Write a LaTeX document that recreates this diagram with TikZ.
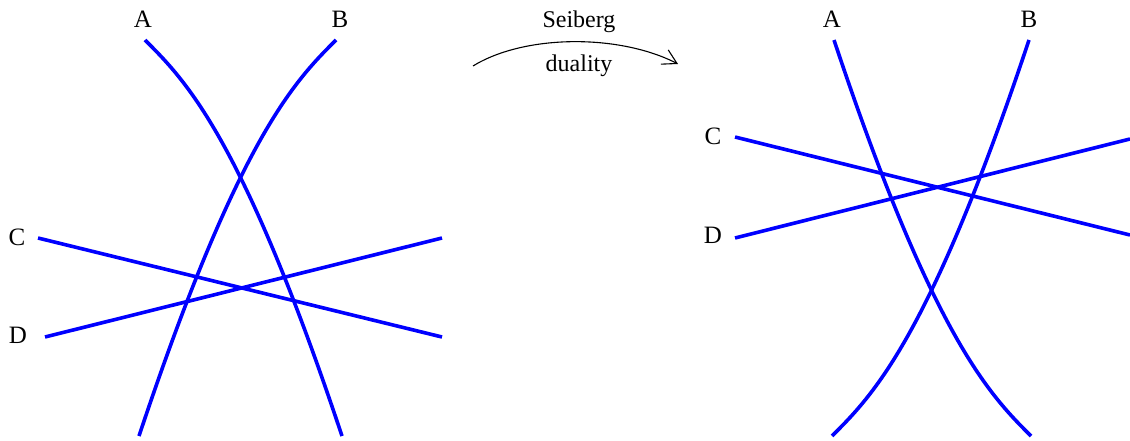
\documentclass[tikz,border=0pt]{standalone}
\usepackage{fontspec}
\setmainfont{Liberation Serif}
\usetikzlibrary{arrows.meta}
\begin{document}
\begin{tikzpicture}[x=1pt,y=-1pt,
  brane/.style={draw={rgb,255:red,0;green,0;blue,255},line width=3.6pt},
  lbl/.style={anchor=base,inner sep=0pt,font=\fontsize{25}{28}\selectfont},
  small/.style={anchor=base,inner sep=0pt,font=\fontsize{24}{27}\selectfont},
  dualarrow/.style={draw=black,line width=1.1pt,-{Straight Barb[length=14pt,width=16pt,line width=1.1pt]}}]
\useasboundingbox (0,0) rectangle (1130,441);
% ---------- left configuration ----------
\node[lbl] (LA) at (143,28) {A};
\node[lbl] (LB) at (340,28) {B};
\node[lbl] (LC) at (17,245) {C};
\node[lbl] (LD) at (18,343) {D};
\coordinate (la0) at (145,40);  \coordinate (la1) at (342,436);
\coordinate (lb0) at (336,40);  \coordinate (lb1) at (139,436);
\coordinate (lc0) at (38,238);  \coordinate (lc1) at (442,337);
\coordinate (ld0) at (45,337);  \coordinate (ld1) at (442,238);
\draw[brane] (la0) .. controls (185,80) and (242,136) .. (la1);
\draw[brane] (lb0) .. controls (296,80) and (239,136) .. (lb1);
\draw[brane] (lc0) -- (lc1);
\draw[brane] (ld0) -- (ld1);
% ---------- arrow ----------
\node[small] (S1) at (579,28) {Seiberg};
\node[small] (S2) at (579,72) {duality};
\coordinate (ar0) at (473,66);
\coordinate (ar1) at (678,64);
\draw[dualarrow] (ar0) .. controls (525,34) and (620,34) .. (ar1);
% ---------- right configuration ----------
\node[lbl] (RA) at (832,28) {A};
\node[lbl] (RB) at (1029,28) {B};
\node[lbl] (RC) at (713,145) {C};
\node[lbl] (RD) at (713,243) {D};
\coordinate (ra0) at (834,40);  \coordinate (ra1) at (1031,436);
\coordinate (rb0) at (1029,40); \coordinate (rb1) at (832,436);
\coordinate (rc0) at (735,137); \coordinate (rc1) at (1130,235);
\coordinate (rd0) at (735,238); \coordinate (rd1) at (1130,139);
\draw[brane] (ra0) .. controls (934,340) and (991,396) .. (ra1);
\draw[brane] (rb0) .. controls (929,340) and (872,396) .. (rb1);
\draw[brane] (rc0) -- (rc1);
\draw[brane] (rd0) -- (rd1);
\end{tikzpicture}
\end{document}
